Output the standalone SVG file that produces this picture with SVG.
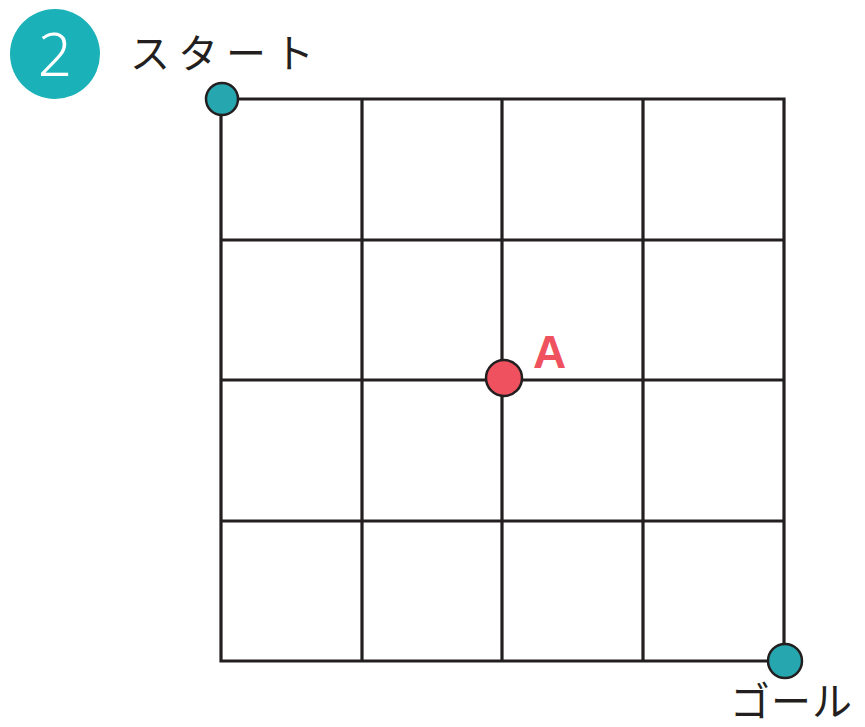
<svg xmlns="http://www.w3.org/2000/svg" width="865" height="727" viewBox="0 0 865 727">
<style>
.grid{stroke:#231f20;stroke-width:3.2;fill:none}
.pt{stroke:#231f20;stroke-width:2.5}
.jp{font-family:"Noto Sans CJK JP","Noto Sans",sans-serif;font-size:40px;fill:#231f20;font-weight:400}
</style>
<rect width="865" height="727" fill="#fff"/>
<g id="badge">
<circle cx="55" cy="54" r="45" fill="#1ab2b8"/>
<text x="55" y="76" text-anchor="middle" font-family="'Noto Sans',sans-serif" font-size="60" font-weight="300" fill="#fff">2</text>
</g>
<g id="start-label"><text class="jp" x="130" y="68" letter-spacing="8">スタート</text></g>
<g id="connectors">
<path class="grid" d="M221 99H784V661H221Z M362 99V661 M502 99V661 M643 99V661 M221 240H784 M221 380H784 M221 521H784"/>
</g>
<g id="start"><circle class="pt" cx="222" cy="99" r="16" fill="#26a7b0"/></g>
<g id="pointA">
<circle class="pt" cx="504" cy="378" r="18" fill="#ef525e"/>
<text x="533" y="368" font-family="'Liberation Sans',Arial,sans-serif" font-size="46" font-weight="bold" fill="#ef525e">A</text>
</g>
<g id="goal"><circle class="pt" cx="785" cy="661" r="17" fill="#26a7b0"/></g>
<g id="goal-label"><text class="jp" x="730" y="716" font-size="38" letter-spacing="1">ゴール</text></g>
</svg>
